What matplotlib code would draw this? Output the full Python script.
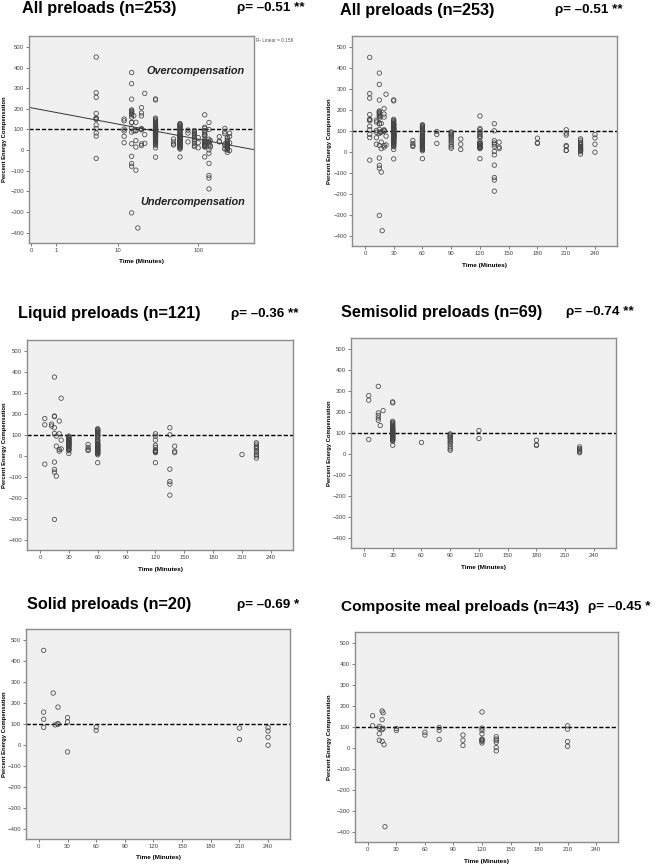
import matplotlib
matplotlib.use("Agg")
import matplotlib.pyplot as plt
import numpy as np

plt.rcParams['font.family'] = ['Liberation Sans', 'DejaVu Sans']

# percent energy compensation by time (minutes), one dict per preload type
liquid = {
    5: [178, 148, -40],
    12: [151, 142],
    15: [376, 190, 187, 134, 107, -30, -65, -78, -304],
    17: [94, 46, -97],
    20: [166, 105, 30, 22],
    22: [275, 75, 33],
    30: [94, 90, 86, 82, 80, 78, 75, 72, 69, 66, 63, 60, 58, 57, 54, 51, 48, 45, 42, 38, 35, 31, 28, 24, 11],
    50: [54, 40, 30, 25],
    60: [129, 125, 122, 118, 115, 110, 106, 100, 97, 94, 86, 78, 72, 68, 62, 58, 55, 52, 50, 47,
         45, 42, 40, 37, 35, 32, 30, 27, 25, 22, 20, 17, 15, 12, 10, 5, -33],
    120: [105, 94, 75, 50, 40, 27, 24, 21, 18, 15, -33],
    135: [134, 100, -64, -123, -135, -188],
    140: [46, 22, 15],
    210: [6],
    225: [62, 55, 46, 40, 33, 24, 15, 6, 0, -11],
}
semisolid = {
    5: [278, 256, 68],
    15: [322, 195, 183, 171, 160],
    17: [135],
    20: [206],
    30: [248, 243, 155, 150, 145, 140, 135, 130, 128, 125, 120, 118, 115, 112, 110, 108, 105, 102,
         100, 97, 95, 92, 90, 87, 85, 82, 80, 77, 75, 72, 70, 67, 65, 60, 41],
    60: [54],
    90: [95, 90, 84, 80, 75, 68, 60, 52, 44, 33, 24, 17],
    120: [111, 73],
    180: [65, 43, 40],
    225: [33, 25, 21, 14, 10, 5],
}
solid = {
    5: [451, 156, 122, 83],
    15: [247],
    17: [95],
    20: [180, 98, 101],
    30: [130, 109, -34],
    60: [85, 69],
    210: [80, 25],
    240: [82, 66, 36, -2],
}
composite = {
    5: [153, 105],
    12: [102, 93, 67, 36],
    15: [176, 134, 87, 31],
    16: [167, 93],
    17: [15],
    18: [-377],
    30: [92, 83],
    60: [74, 61],
    75: [97, 83, 40],
    100: [61, 36, 11],
    120: [171, 94, 83, 67, 42, 38, 36, 31, 23],
    135: [53, 42, 36, 26, 1, -15],
    210: [105, 89, 30, 7],
}

# regression line of panel 1, linear in log10(time + 1)
fit_intercept = 205
fit_slope = -75.8

y_ticks = [-400, -300, -200, -100, 0, 100, 200, 300, 400, 500]
lin_ticks = [0, 30, 60, 90, 120, 150, 180, 210, 240]
log_ticks = [0, 1, 10, 100]


def points(*groups):
    xs, ys = [], []
    for g in groups:
        for t, vals in g.items():
            xs += [t] * len(vals)
            ys += vals
    return np.array(xs, float), np.array(ys, float)


W, H = 666, 865
fig = plt.figure(figsize=(W / 100, H / 100), dpi=100)


def panel(box, title, rho, tx, rx, ty, data, logx=False, tsize=11.7):
    l, r, t, b = box
    ax = fig.add_axes([l / W, 1 - b / H, (r - l) / W, (b - t) / H])
    ax.set_facecolor('#f0f0f0')
    for s in ax.spines.values():
        s.set_color('#8c8c8c')
        s.set_linewidth(1)
    x, y = data
    if logx:
        ax.set_xscale('function', functions=(lambda v: np.log10(v + 1), lambda v: 10 ** v - 1))
        ax.set_xlim(-0.065, 472)
        ax.set_xticks(log_ticks)
        ax.set_xticklabels([str(v) for v in log_ticks])
        ax.xaxis.set_minor_locator(matplotlib.ticker.NullLocator())
    else:
        ax.set_xlim(-13.5, 263)
        ax.set_xticks(lin_ticks)
    ax.set_ylim(-450, 553)
    ax.set_yticks(y_ticks)
    ax.tick_params(labelsize=4.3, length=2.5, width=0.6, color='#666666',
                   labelcolor='#444444', pad=1)
    ax.axhline(100, color='black', lw=1, ls=(0, (3, 1.5)), zorder=2)
    ax.scatter(x, y, s=10, facecolors='none', edgecolors='#444444', linewidths=0.55, zorder=3)
    fig.text(tx / W, 1 - ty / H, title, fontsize=tsize, fontweight='bold', va='center', ha='left')
    fig.text(rx / W, 1 - ty / H, rho, fontsize=9.7, fontweight='bold', va='center', ha='left')
    fig.text((l + r) / 2 / W, 1 - (b + 19) / H, 'Time (Minutes)', fontsize=4.6,
             fontweight='bold', ha='center', va='center')
    ylx = 5 if l < 100 else 330
    fig.text(ylx / W, 1 - (t + b) / 2 / H, 'Percent Energy Compensation', fontsize=4.2,
             fontweight='bold', rotation=90, ha='center', va='center')
    return ax


all_data = points(liquid, semisolid, solid, composite)

ax1 = panel((29, 254, 36, 243), 'All preloads (n=253)', 'ρ= –0.51 **', 22, 237, 8,
            all_data, logx=True)
xf = np.linspace(-0.06, 472, 400)
ax1.plot(xf, fit_intercept + fit_slope * np.log10(xf + 1), color='#333333', lw=0.7, zorder=2)
ax1.text(0.96, 0.83, 'Overcompensation', transform=ax1.transAxes, fontsize=7.8,
         fontweight='bold', style='italic', ha='right', va='center', color='#222222')
ax1.text(0.96, 0.2, 'Undercompensation', transform=ax1.transAxes, fontsize=7.8,
         fontweight='bold', style='italic', ha='right', va='center', color='#222222')
fig.text(256 / W, 1 - 41 / H, 'R² Linear = 0.156', fontsize=3.4, color='#555555',
         ha='left', va='center')

panel((352, 617, 36, 246), 'All preloads (n=253)', 'ρ= –0.51 **', 340, 555, 10, all_data)
panel((27, 293, 340, 550), 'Liquid preloads (n=121)', 'ρ= –0.36 **', 18, 231, 314,
      points(liquid))
panel((351, 616, 338, 548), 'Semisolid preloads (n=69)', 'ρ= –0.74 **', 341, 566, 312,
      points(semisolid))
panel((26, 290, 629, 839), 'Solid preloads (n=20)', 'ρ= –0.69 *', 27, 237, 605,
      points(solid))
panel((355, 618, 632, 842), 'Composite meal preloads (n=43)', 'ρ= –0.45 *', 341, 588, 607,
      points(composite), tsize=11.1)

fig.savefig('out.png', dpi=100, facecolor='white')
